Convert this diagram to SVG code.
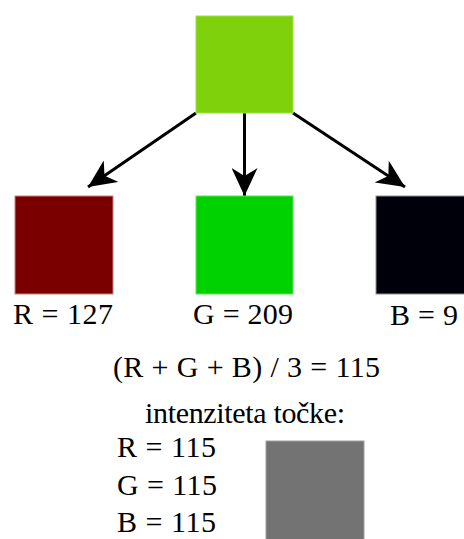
<svg xmlns="http://www.w3.org/2000/svg" width="464" height="539" viewBox="0 0 464 539">
<style>
text{font-family:"Liberation Serif","Times New Roman",serif;font-size:30px;fill:#000}
.sq{stroke-width:1}
.c{stroke:#000;stroke-width:3;fill:none}
</style>
<defs>
<marker id="ah" markerUnits="userSpaceOnUse" viewBox="0 0 28 26" refX="28" refY="13" markerWidth="28" markerHeight="26" orient="auto">
<path d="M28,13 L0,0 L8,13 L0,26 z" fill="#000"/>
</marker>
</defs>
<rect width="464" height="539" fill="#fff"/>
<g id="connectors">
<line class="c" x1="196" y1="113" x2="88" y2="187" marker-end="url(#ah)"/>
<line class="c" x1="244.5" y1="113" x2="244.5" y2="196" marker-end="url(#ah)"/>
<line class="c" x1="293" y1="113" x2="405" y2="187" marker-end="url(#ah)"/>
</g>
<g id="source"><rect x="196" y="16" width="97" height="97" fill="#7fd10b" stroke="#9be04a" class="sq"/></g>
<g id="red">
<rect x="15" y="196" width="98" height="98" fill="#7a0000" stroke="#c08080" class="sq"/>
<text x="13" y="324" textLength="100">R = 127</text>
</g>
<g id="green">
<rect x="196" y="196" width="97" height="98" fill="#00d100" stroke="#60e060" class="sq"/>
<text x="193" y="324" textLength="100">G = 209</text>
</g>
<g id="blue">
<rect x="376" y="196" width="97" height="98" fill="#00000b" stroke="#909090" class="sq"/>
<text x="390" y="325" textLength="68">B = 9</text>
</g>
<g id="formula"><text x="113" y="377" textLength="267">(R + G + B) / 3 = 115</text></g>
<g id="result">
<text x="145" y="423" textLength="200">intenziteta točke:</text>
<text x="117" y="457" textLength="99">R = 115</text>
<text x="117" y="495" textLength="100">G = 115</text>
<text x="117" y="532" textLength="99">B = 115</text>
<rect x="266" y="441" width="98" height="100" fill="#737373" stroke="#a0a0a0" class="sq"/>
</g>
</svg>
